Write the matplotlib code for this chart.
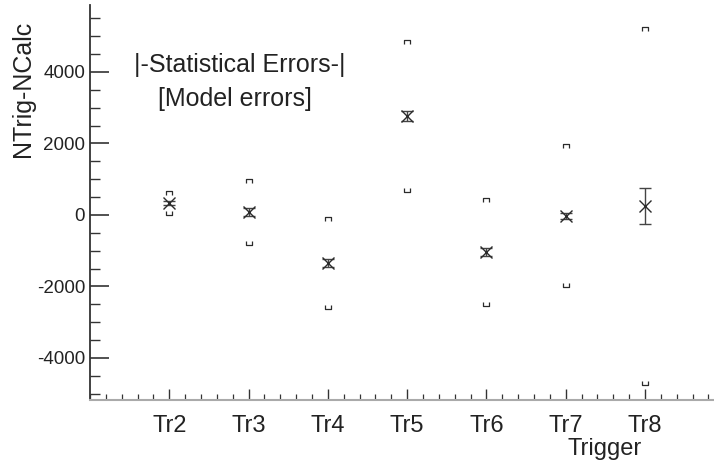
import matplotlib
matplotlib.use("Agg")
import matplotlib.pyplot as plt
from matplotlib.path import Path
from matplotlib.ticker import MultipleLocator
import numpy as np

plt.rcParams["font.family"] = ["Liberation Sans", "DejaVu Sans"]

# --- data ---
triggers   = ["Tr2", "Tr3", "Tr4", "Tr5", "Tr6", "Tr7", "Tr8"]
xpos       = [2, 3, 4, 5, 6, 7, 8]
diff       = [335, 80, -1340, 2770, -1035, -30, 250]     # NTrig-NCalc
stat_err   = [60, 110, 120, 150, 110, 90, 515]           # statistical errors
model_hi   = [615, 950, -110, 4840, 420, 1930, 5200]     # model error upper edge
model_lo   = [55, -790, -2570, 700, -2490, -1960, -4700] # model error lower edge

ink = "#2b2b2b"

fig = plt.figure(figsize=(7.14, 4.65), dpi=100)
ax = fig.add_axes([90 / 714, 65 / 465, 1 - 90 / 714, 395 / 465])

# statistical errors + central values
ax.errorbar(xpos, diff, yerr=stat_err, fmt="none", ecolor="#444444",
            elinewidth=1.0, capsize=4.5, capthick=1.0, zorder=3)
ax.plot(xpos, diff, linestyle="none", marker="x", markersize=8.5,
        markeredgewidth=1.0, color=ink, zorder=4)

# model errors drawn as small brackets
top_br = Path([(-1, -0.55), (-1, 0.55), (1, 0.55), (1, -0.55)],
              [Path.MOVETO, Path.LINETO, Path.LINETO, Path.LINETO])
bot_br = Path([(-1, 0.55), (-1, -0.55), (1, -0.55), (1, 0.55)],
              [Path.MOVETO, Path.LINETO, Path.LINETO, Path.LINETO])
ax.plot(xpos, model_hi, linestyle="none", marker=top_br, markersize=4.5,
        markerfacecolor="none", markeredgecolor=ink, markeredgewidth=0.9)
ax.plot(xpos, model_lo, linestyle="none", marker=bot_br, markersize=4.5,
        markerfacecolor="none", markeredgecolor=ink, markeredgewidth=0.9)

ax.set_xlim(1, 8.87)
ax.set_ylim(-5175, 5874)

ax.set_xticks(xpos)
ax.set_xticklabels(triggers, fontsize=17, color="#222222")
ax.xaxis.set_minor_locator(MultipleLocator(0.2))
ax.yaxis.set_minor_locator(MultipleLocator(500))
ax.set_yticks([-4000, -2000, 0, 2000, 4000])
ax.set_yticklabels(["-4000", "-2000", "0", "2000", "4000"], fontsize=13.5,
                   color="#222222")

ax.tick_params(axis="y", which="major", direction="in", length=13.5,
               width=1.2, color="#333333", pad=3.5)
ax.tick_params(axis="y", which="minor", direction="in", length=7,
               width=1.0, color="#333333")
ax.tick_params(axis="x", which="major", direction="in", length=8,
               width=1.0, color="#333333", pad=11)
ax.tick_params(axis="x", which="minor", direction="in", length=4,
               width=0.9, color="#333333")

for s in ("top", "right"):
    ax.spines[s].set_visible(False)
ax.spines["left"].set_color("#333333")
ax.spines["left"].set_linewidth(1.3)
ax.spines["bottom"].set_color("#aaaaaa")
ax.spines["bottom"].set_linewidth(1.5)

fig.text(23 / 714, 1 - 89 / 465, "NTrig-NCalc", rotation=90, fontsize=18,
         ha="center", va="center", color="#222222")
fig.text(605 / 714, 1 - 449 / 465, "Trigger", fontsize=17,
         ha="center", va="center", color="#222222")

fig.text(240 / 714, 1 - 65 / 465, "|-Statistical Errors-|", fontsize=18,
         ha="center", va="center", color="#222222")
fig.text(235 / 714, 1 - 99 / 465, "[Model errors]", fontsize=18,
         ha="center", va="center", color="#222222")

fig.savefig("out.png", dpi=100)
